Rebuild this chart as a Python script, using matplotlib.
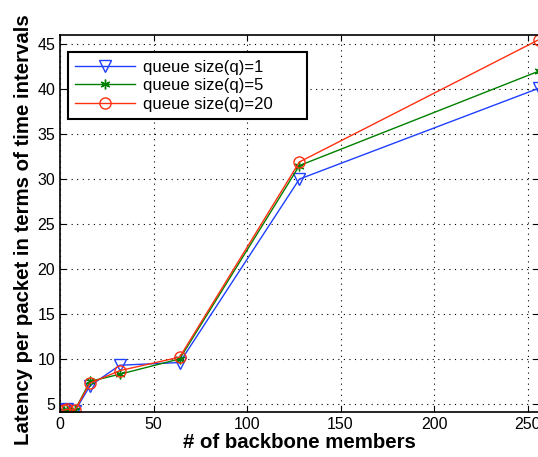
import matplotlib
matplotlib.use('Agg')
import matplotlib.pyplot as plt

plt.rcParams['font.family'] = ['Liberation Sans', 'DejaVu Sans']

# backbone sizes
members = [2, 4, 8, 16, 32, 64, 128, 256]
# latency per packet, one list per queue size
lat_q1 = [4.3, 4.4, 4.2, 7.0, 9.3, 9.6, 30.0, 40.1]
lat_q5 = [4.2, 4.3, 4.3, 7.5, 8.3, 10.0, 31.5, 42.0]
lat_q20 = [4.3, 4.4, 4.3, 7.3, 8.7, 10.2, 31.9, 45.5]
labels = ['queue size(q)=1', 'queue size(q)=5', 'queue size(q)=20']

fig = plt.figure(figsize=(5.38, 4.57), dpi=100)
ax = fig.add_axes([0.1115, 0.0985, 0.89, 0.8245])

ax.plot(members, lat_q1, color='#1f3fff', lw=1, marker='v', ms=8,
        mfc='none', mec='#1f3fff', label=labels[0])
ax.plot(members, lat_q5, color='#008000', lw=1, marker=(6, 2, 0), ms=7,
        mfc='none', mec='#008000', label=labels[1])
ax.plot(members, lat_q20, color='#ff3010', lw=1, marker='o', ms=8,
        mfc='none', mec='#ff3010', label=labels[2])

ax.set_xlim(0, 256)
ax.set_ylim(4.1, 46)
ax.set_xticks([0, 50, 100, 150, 200, 250])
ax.set_yticks([5, 10, 15, 20, 25, 30, 35, 40, 45])
ax.tick_params(direction='in', labelsize=11.5, length=4, top=True, right=True)
ax.grid(True, ls=(0, (1, 4)), color='k', lw=0.8)
for s in ax.spines.values():
    s.set_linewidth(1.2)

ax.set_xlabel('# of backbone members', fontsize=14.7, fontweight='bold', labelpad=1)
ax.set_ylabel('Latency per packet in terms of time intervals', fontsize=14.7,
              fontweight='bold')
ax.yaxis.set_label_coords(-0.056, 0.483)

leg = ax.legend(loc='upper left', bbox_to_anchor=(0.0167, 0.955, 0.499, 0.0),
                mode='expand', borderaxespad=0, fontsize=12,
                fancybox=False, framealpha=1, edgecolor='k', handlelength=3.6,
                handletextpad=0.45, borderpad=0.45, labelspacing=0.22)
leg.get_frame().set_linewidth(1.5)

fig.savefig('out.png', dpi=100)
